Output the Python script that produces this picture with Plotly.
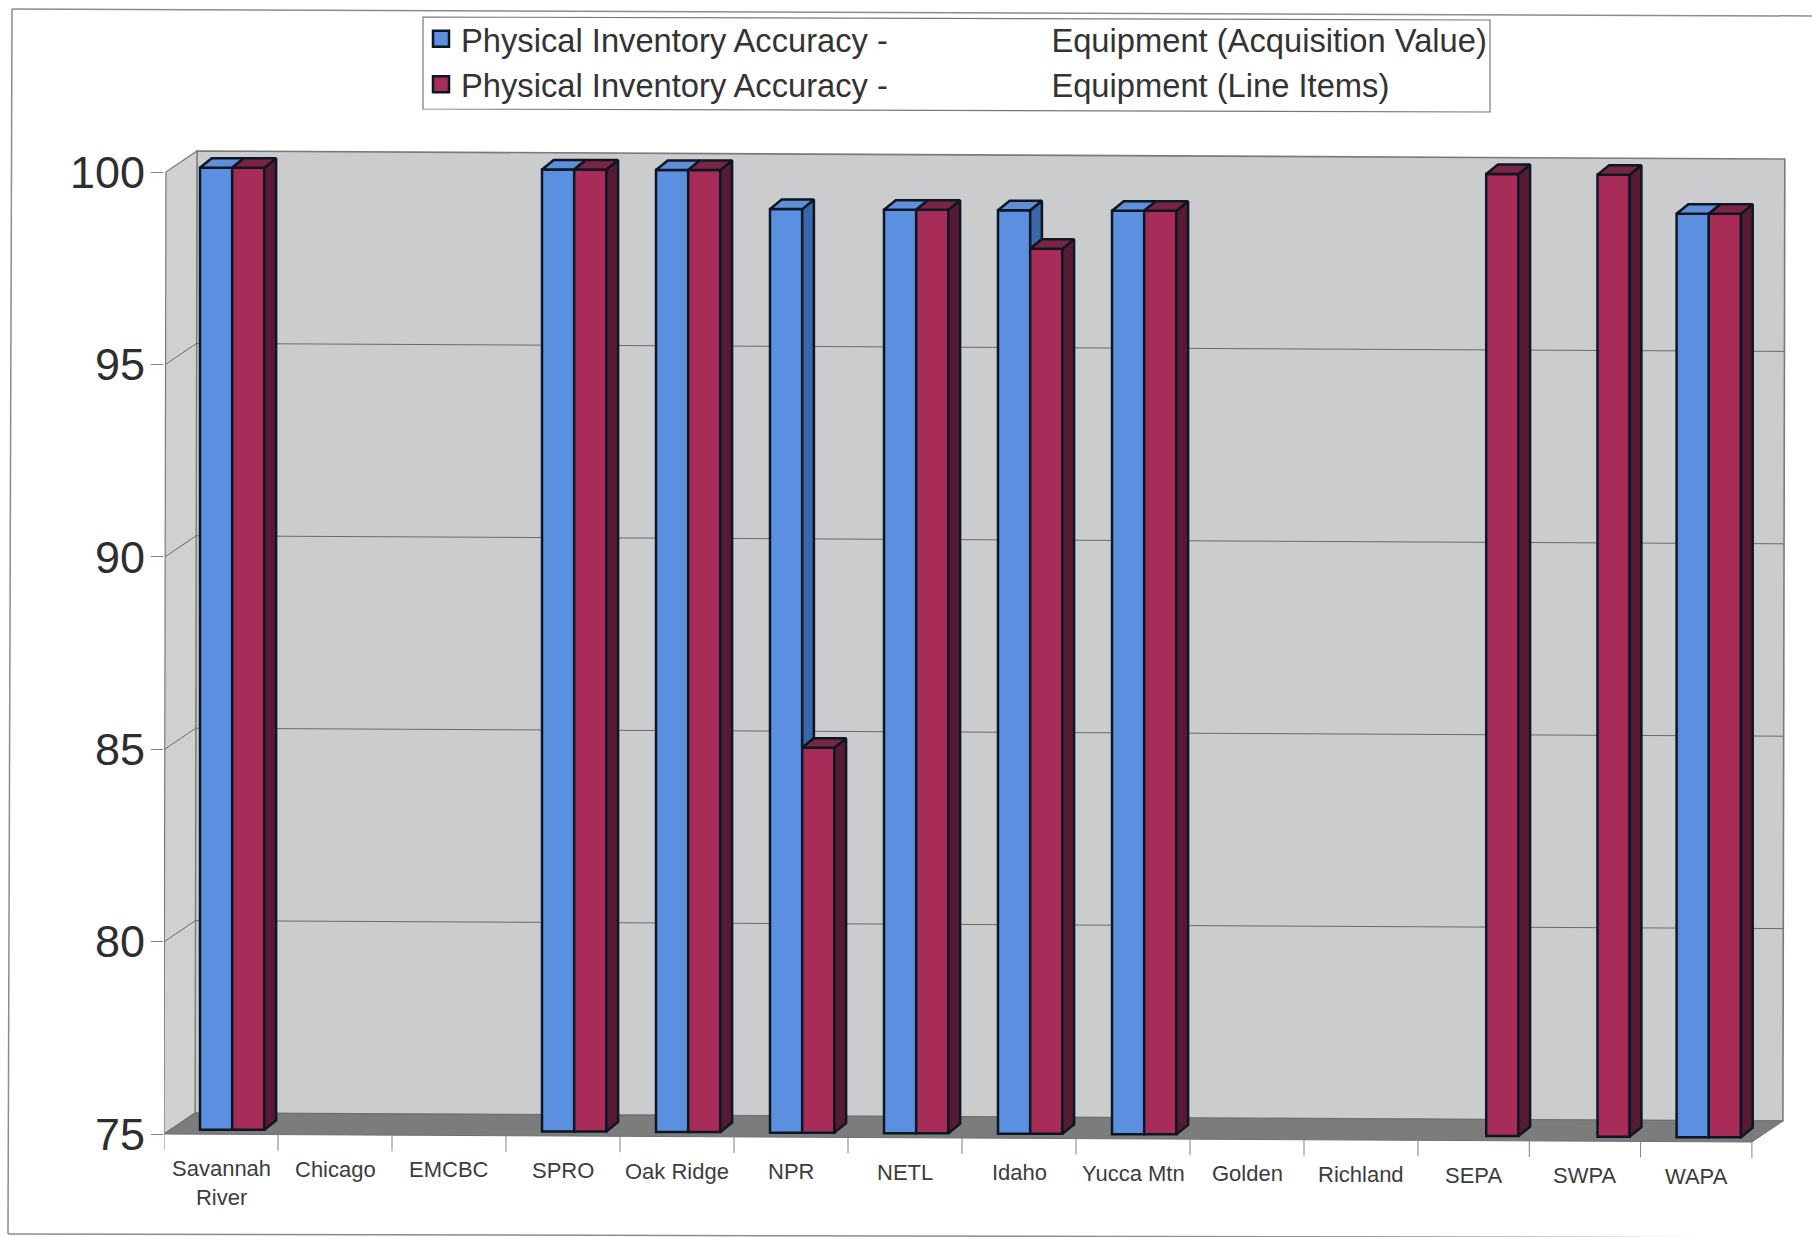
import plotly.graph_objects as go

categories = ["Savannah<br>River", "Chicago", "EMCBC", "SPRO", "Oak Ridge", "NPR", "NETL",
              "Idaho", "Yucca Mtn", "Golden", "Richland", "SEPA", "SWPA", "WAPA"]
acquisition_value = [100, None, None, 100, 100, 99, 99, 99, 99, None, None, None, None, 99]
line_items = [100, None, None, 100, 100, 85, 99, 98, 99, None, None, 100, 100, 99]
y_ticks = [75, 80, 85, 90, 95, 100]
series_names = ["Physical Inventory Accuracy -" + "\u00a0" * 18 + "Equipment (Acquisition Value)",
                "Physical Inventory Accuracy -" + "\u00a0" * 18 + "Equipment (Line Items)"]

W, H = 1812, 1237
PX_X, PX_Y = 114.0, 38.48           # pixels per category / per value unit
L, R, T, B = 164, 1795, 140, 1205   # plot area in pixels
Y0 = 1134                           # pixel of value 75 at the left front corner
TILT = -(8 / PX_Y) / 14             # scan tilt, value units per category
LEAN = 0.002 * PX_Y / PX_X          # scan lean, categories per value unit
WALL_DX, WALL_DY = 31 / PX_X, 21 / PX_Y
BAR_DX, BAR_DY = 11.7 / PX_X, 9.5 / PX_Y
BAR_LEFT, BAR_W = 36.0 / PX_X, 32.2 / PX_X
BAR_SHIFT = 4.5 / PX_Y

fx = lambda px: (px - L) / (R - L)
fy = lambda py: (B - py) / (B - T)


def warp(i):
    """The scanned page is slightly squeezed past the twelfth category."""
    return i if i <= 11 else 11 + (i - 11) * 111.3 / PX_X


def wall(i, v, d):
    """Point on the chart box: category i, value v, depth d (0 front, 1 back)."""
    return (warp(i) + d * WALL_DX + (v - 75) * LEAN, v + d * WALL_DY + TILT * i)


def path(points):
    return "M" + "L".join(f"{x:.4f},{y:.4f}" for x, y in points) + "Z"


n = len(categories)
shapes = []
common = dict(type="path", xref="x", yref="y", layer="below")
shapes.append(dict(path=path([wall(0, 75, 1), wall(0, 100, 1), wall(n, 100, 1), wall(n, 75, 1)]),
                   fillcolor="#cbcccd", line=dict(color="#7a7a7a", width=1.6), **common))
shapes.append(dict(path=path([wall(0, 75, 0), wall(0, 100, 0), wall(0, 100, 1), wall(0, 75, 1)]),
                   fillcolor="#cfd0d2", line=dict(color="#7a7a7a", width=1.2), **common))
shapes.append(dict(path=path([wall(0, 75, 0), wall(0, 75, 1), wall(n, 75, 1), wall(n, 75, 0)]),
                   fillcolor="#7c7c7c", line=dict(color="#6f6f6f", width=1), **common))
for t in y_ticks[1:-1]:
    a, b, c = wall(0, t, 0), wall(0, t, 1), wall(n, t, 1)
    shapes.append(dict(type="line", xref="x", yref="y", layer="below", x0=a[0], y0=a[1], x1=b[0], y1=b[1],
                       line=dict(color="#6a6a6a", width=1)))
    shapes.append(dict(type="line", xref="x", yref="y", layer="below", x0=b[0], y0=b[1], x1=c[0], y1=c[1],
                       line=dict(color="#6a6a6a", width=1)))
# category ticks under the floor
for i in range(n + 1):
    a = wall(i, 75, 0)
    shapes.append(dict(type="line", xref="x", yref="y", layer="below", x0=a[0], y0=a[1], x1=a[0], y1=a[1] - 16 / PX_Y,
                       line=dict(color="#808080", width=1)))
# scanned page frame
frame = [(12, 9, 1812, 16), (12, 9, 8, 1234), (8, 1234, 1812, 1238)]
for x0, y0, x1, y1 in frame:
    shapes.append(dict(type="line", xref="paper", yref="paper", layer="below",
                       x0=fx(x0), y0=fy(y0), x1=fx(x1), y1=fy(y1), line=dict(color="#8c8c8c", width=1.5)))
# legend box, tilted with the scan
box = [(423, 17), (1490, 20), (1490, 112), (423, 109)]
shapes.append(dict(type="path", xref="paper", yref="paper", layer="below",
                   path=path([(fx(x), fy(y)) for x, y in box]), fillcolor="white",
                   line=dict(color="#777777", width=1.2)))


def base_at(i):
    return 75 + BAR_SHIFT + TILT * i


def faces(values, slot, lower=None):
    """Side and top polygons of one series, joined with None breaks."""
    sx, sy, tx, ty = [], [], [], []
    for i, v in enumerate(values):
        if v is None:
            continue
        left = warp(i) + BAR_LEFT + slot * BAR_W
        right = left + BAR_W
        off = BAR_SHIFT + TILT * (i + 0.5)
        floor = 75 if lower is None or lower[i] is None else lower[i]
        if floor < v:
            sx += [right, right + BAR_DX, right + BAR_DX, right, right, None]
            sy += [v + off, v + off + BAR_DY, floor + off + BAR_DY, floor + off, v + off, None]
        tx += [left, left + BAR_DX, right + BAR_DX, right, left, None]
        ty += [v + off, v + off + BAR_DY, v + off + BAR_DY, v + off, v + off, None]
    return sx, sy, tx, ty


OUTLINE = dict(color="#0d1722", width=2.5)
fig = go.Figure()
series = [(acquisition_value, 0, "#5b8fe0", "#3a66ab", "#5f8fd8", series_names[0], line_items),
          (line_items, 1, "#a82c58", "#561a35", "#7b2546", series_names[1], None)]
for values, slot, front, side, top, name, lower in series:
    fig.add_trace(go.Bar(
        x=[warp(i) + BAR_LEFT + (slot + 0.5) * BAR_W for i in range(n)],
        y=[None if v is None else v - 75 for v in values],
        base=[base_at(i + 0.5) for i in range(n)],
        width=BAR_W, name=name, showlegend=False, marker=dict(color=front, line=OUTLINE), hoverinfo="skip"))
for values, slot, front, side, top, name, lower in series:
    sx, sy, tx, ty = faces(values, slot, lower)
    fig.add_trace(go.Scatter(x=sx, y=sy, mode="lines", fill="toself", fillcolor=side, line=OUTLINE,
                             showlegend=False, hoverinfo="skip"))
    fig.add_trace(go.Scatter(x=tx, y=ty, mode="lines", fill="toself", fillcolor=top, line=OUTLINE,
                             showlegend=False, hoverinfo="skip"))
for values, slot, front, side, top, name, lower in series:
    fig.add_trace(go.Scatter(x=[None], y=[None], mode="markers", name=name, hoverinfo="skip",
                             marker=dict(symbol="square", size=16, color=front, line=dict(color="#0d1722", width=2.5))))

annotations = [dict(x=(warp(i) + warp(i + 1)) / 2, y=75 + TILT * (i + 0.5) - 20 / PX_Y, xref="x", yref="y", text=c,
                    showarrow=False, xanchor="center", yanchor="top",
                    font=dict(family="Liberation Sans", size=22, color="#3c3c3c"))
               for i, c in enumerate(categories)]

fig.update_layout(
    width=W, height=H, autosize=False, barmode="overlay", showlegend=True,
    paper_bgcolor="white", plot_bgcolor="white", shapes=shapes, annotations=annotations,
    margin=dict(l=L, r=W - R, t=T, b=H - B, autoexpand=False),
    legend=dict(x=fx(421), y=fy(11), xanchor="left", yanchor="top", bgcolor="rgba(0,0,0,0)", borderwidth=0,
                font=dict(family="Liberation Sans", size=32.7, color="#333333"), traceorder="normal", itemsizing="trace",
                tracegroupgap=0, itemclick=False, itemdoubleclick=False),
    xaxis=dict(range=[0, (R - L) / PX_X], visible=False),
    yaxis=dict(range=[75 - (B - Y0) / PX_Y, 75 + (Y0 - T) / PX_Y], tickvals=y_ticks, ticks="outside", ticklen=12,
               tickcolor="#808080", tickwidth=1, showgrid=False, zeroline=False, showline=False,
               ticklabelstandoff=-3, tickfont=dict(family="Liberation Sans", size=45, color="#2e2e2e")),
)
fig.write_html("out.html", post_script="document.body.style.margin='0';", config={"displayModeBar": False})
